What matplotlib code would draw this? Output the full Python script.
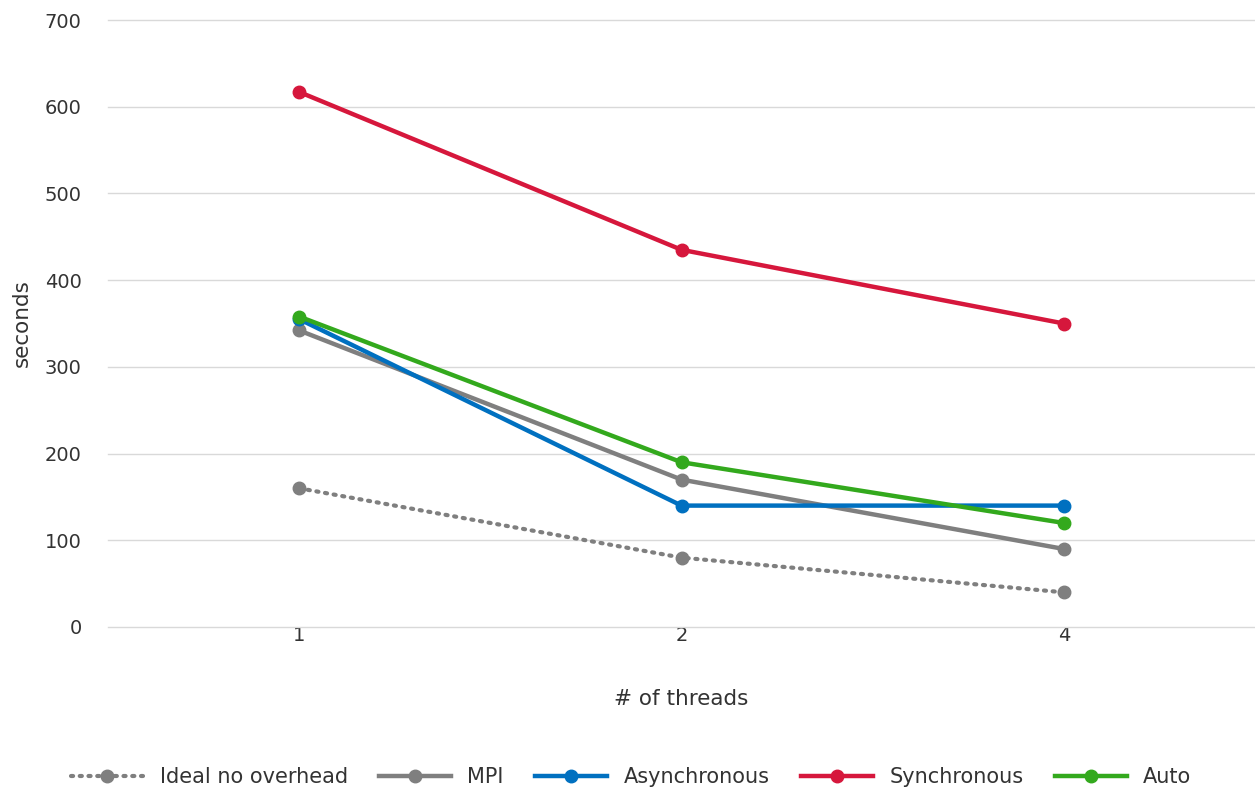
import matplotlib.pyplot as plt
import numpy as np

plt.rcParams['font.family'] = ['DejaVu Sans']

threads = ['1', '2', '4']
ideal = [160, 80, 40]
mpi = [342, 170, 90]
asynchronous = [355, 140, 140]
synchronous = [617, 435, 350]
auto = [358, 190, 120]

fig = plt.figure(figsize=(12.55, 7.91), dpi=100)
ax = fig.add_axes([108/1255, 1 - 627/791, 1 - 108/1255, (627 - 20)/791])

x = np.arange(len(threads))
gray = '#7f7f7f'
ms = 9
ax.plot(x, ideal, color=gray, linestyle=(0, (0.5, 1.6)), dash_capstyle='round',
        linewidth=3, marker='o', markersize=ms, label='Ideal no overhead')
ax.plot(x, mpi, color=gray, linewidth=3.2, marker='o', markersize=ms, label='MPI')
ax.plot(x, asynchronous, color='#0070c0', linewidth=3.2, marker='o', markersize=ms,
        label='Asynchronous')
ax.plot(x, synchronous, color='#d6173c', linewidth=3.2, marker='o', markersize=ms,
        label='Synchronous')
ax.plot(x, auto, color='#33a91d', linewidth=3.2, marker='o', markersize=ms, label='Auto')

ax.set_xlim(-0.5, 2.5)
ax.set_ylim(0, 700)
ax.set_yticks(range(0, 701, 100))
ax.set_xticks(x)
ax.set_xticklabels(threads)
ax.grid(axis='y', color='#d9d9d9', linewidth=1)
for g in ax.get_ygridlines():
    g.set_clip_on(False)
ax.set_axisbelow(True)
for s in ax.spines.values():
    s.set_visible(False)
ax.tick_params(length=0, labelsize=14, colors='#333333')
ax.tick_params(axis='x', pad=-1)
ax.tick_params(axis='y', pad=19)
ax.set_xlabel('# of threads', fontsize=15.5, color='#333333', labelpad=32)
ax.set_ylabel('seconds', fontsize=15.5, color='#333333')
ax.yaxis.set_label_coords(-76/1147, 0.5)

fig.legend(loc='center', bbox_to_anchor=(0.503, 1 - 777/791), ncol=5, frameon=False,
           fontsize=15, handlelength=3.45, columnspacing=1.5, handletextpad=0.8,
           labelcolor='#333333')

fig.savefig('out.png', dpi=100)
